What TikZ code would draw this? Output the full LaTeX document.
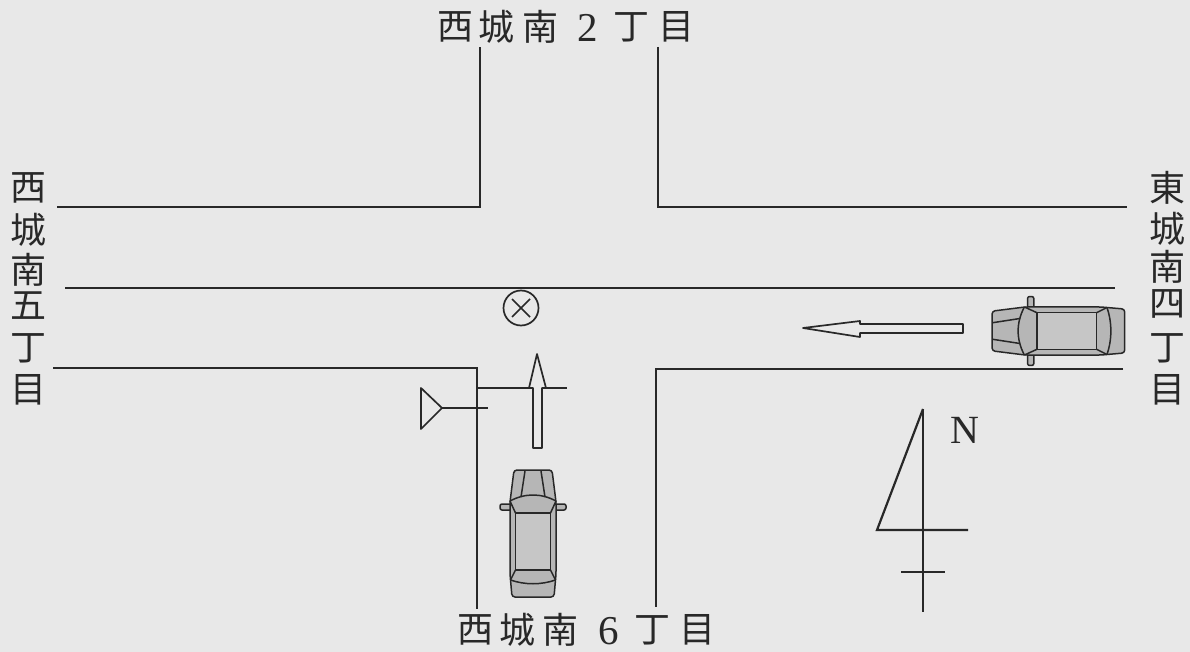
\documentclass[tikz,border=0pt]{standalone}
\usepackage{fontspec}
\newfontfamily\cjk{Noto Sans CJK JP}
\newfontfamily\latinserif{Liberation Serif}
\definecolor{paper}{RGB}{232,232,232}
\definecolor{ink}{RGB}{40,40,40}
\definecolor{carfill}{RGB}{182,182,182}
\definecolor{rooffill}{RGB}{198,198,198}
\tikzset{
  road/.style={draw=ink, line width=2.2pt},
  thin/.style={draw=ink, line width=1.7pt, line join=round},
  lbl/.style={inner sep=0pt, text=ink, font=\cjk\fontsize{36}{36}\selectfont},
  num/.style={inner sep=0pt, text=ink, font=\latinserif\fontsize{41}{41}\selectfont},
  carline/.style={draw=ink, line width=1.5pt, line join=round},
  car/.pic={
    \path[carline, fill=carfill, rounded corners=2pt] (-33,34) rectangle (-21,40);
    \path[carline, fill=carfill, rounded corners=2pt] (21,34) rectangle (33,40);
    \path[carline, fill=carfill, rounded corners=3pt] (-19,0) -- (19,0) -- (23,32) -- (23,104) -- (21,127) -- (-21,127) -- (-23,104) -- (-23,32) -- cycle;
    \path[carline, fill=rooffill] (-17.5,43) rectangle (17.5,100);
    \path[carline] (-8,1) -- (-12,27);
    \path[carline] (8,1) -- (12,27);
    \path[carline] (-23,31) .. controls (-8,23) and (8,23) .. (23,31);
    \path[carline] (-23,31) -- (-17.5,43);
    \path[carline] (23,31) -- (17.5,43);
    \path[carline] (-17.5,100) -- (-22.5,110);
    \path[carline] (17.5,100) -- (22.5,110);
    \path[carline] (-22.5,110) .. controls (-8,115) and (8,115) .. (22.5,110);
  }
}
\begin{document}
\begin{tikzpicture}[x=1pt,y=-1pt]
\useasboundingbox (0,0) rectangle (1190,652);
\fill[paper] (0,0) rectangle (1190,652);

% road edges
\draw[road] (57,207) -- (480,207) -- (480,47);
\draw[road] (658,47) -- (658,207) -- (1127,207);
\draw[road] (65,288) -- (1115,288);
\draw[road] (53,368) -- (477,368) -- (477,609);
\draw[road] (1123,369) -- (656,369) -- (656,607);

% stop line and sign
\draw[thin] (477,388) -- (567,388);
\coordinate (signtip) at (442,408);
\draw[thin] (421,388) -- (signtip) -- (421,429) -- cycle;
\draw[thin] (signtip) -- (488,408);

% collision mark
\node[circle, draw=ink, line width=1.7pt, minimum size=35pt, inner sep=0pt] (crash) at (521,308) {};
\draw[thin] (512,299) -- (530,317);
\draw[thin] (530,299) -- (512,317);

% arrows
\draw[thin, fill=paper] (537,354) -- (546,388) -- (542,388) -- (542,448) -- (533,448) -- (533,388) -- (529,388) -- cycle;
\draw[thin, fill=paper] (803,328) -- (860,321) -- (860,324) -- (963,324) -- (963,333) -- (860,333) -- (860,337) -- cycle;

% cars
\pic at (533,470) {car};
\pic[rotate=90, scale=1.045] at (992,331) {car};

% north arrow
\draw[road] (923,409) -- (923,612);
\draw[road, line join=miter] (923,409) -- (877,530) -- (968,530);
\draw[road] (901,572) -- (945,572);
\node[inner sep=0pt, text=ink, font=\latinserif\fontsize{40}{40}\selectfont] (north) at (965,430) {N};

% labels top
\node[lbl] (t1) at (455,27) {西};
\node[lbl] (t2) at (496,27) {城};
\node[lbl] (t3) at (540,27) {南};
\node[num] (t4) at (588,28) {2};
\node[lbl] (t5) at (631,27) {丁};
\node[lbl] (t6) at (676,27) {目};
% labels bottom
\node[lbl] (b1) at (475,630) {西};
\node[lbl] (b2) at (517,630) {城};
\node[lbl] (b3) at (560,630) {南};
\node[num] (b4) at (609,631) {6};
\node[lbl] (b5) at (652,630) {丁};
\node[lbl] (b6) at (697,630) {目};
% labels left
\node[lbl] (l1) at (28,188) {西};
\node[lbl] (l2) at (28,230) {城};
\node[lbl] (l3) at (28,270) {南};
\node[lbl] (l4) at (28,306) {五};
\node[lbl] (l5) at (28,348) {丁};
\node[lbl] (l6) at (28,390) {目};
% labels right
\node[lbl] (r1) at (1167,188) {東};
\node[lbl] (r2) at (1167,229) {城};
\node[lbl] (r3) at (1167,267) {南};
\node[lbl] (r4) at (1167,304) {四};
\node[lbl] (r5) at (1167,348) {丁};
\node[lbl] (r6) at (1167,390) {目};
\end{tikzpicture}
\end{document}
